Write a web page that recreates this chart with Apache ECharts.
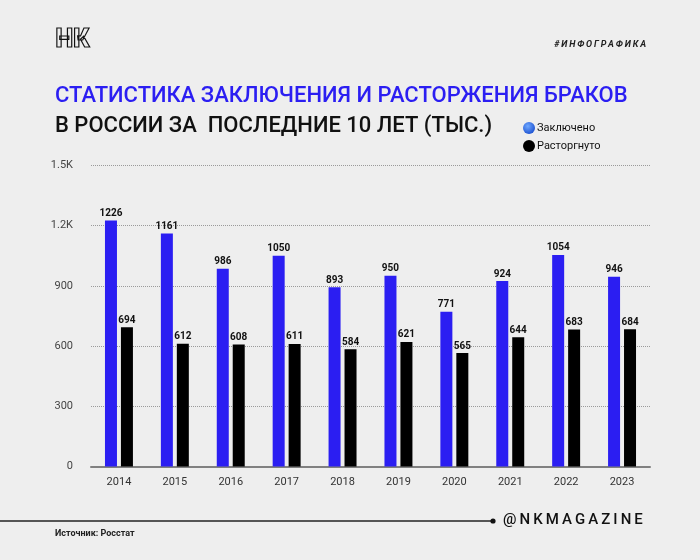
<!DOCTYPE html>
<html>
<head>
<meta charset="utf-8">
<script src="https://cdn.jsdelivr.net/npm/echarts@6/dist/echarts.min.js"></script>
<style>
html,body{margin:0;padding:0;background:#eeeeee;}
#chart{width:700px;height:560px;}
</style>
</head>
<body>
<div id="chart"></div>
<script>
const years = ['2014','2015','2016','2017','2018','2019','2020','2021','2022','2023'];
const married = [1226,1161,986,1050,893,950,771,924,1054,946];
const divorced = [694,612,608,611,584,621,565,644,683,684];
const yTickLabels = {0:'0',300:'300',600:'600',900:'900',1200:'1.2K',1500:'1.5K'};

const BLUE = '#2b1ef2';
const chart = echarts.init(document.getElementById('chart'), null, {renderer:'canvas'});
const sp = s => s.split('').join('\u2009');

chart.setOption({
  backgroundColor: '#eeeeee',
  animation: false,
  textStyle: {fontFamily: 'Roboto'},
  grid: {left: 91, right: 50, top: 165.5, bottom: 93.5, containLabel: false},
  legend: {
    orient: 'vertical', left: 518, top: 117, itemGap: 6,
    itemWidth: 12, itemHeight: 12, icon: 'circle',
    textStyle: {fontSize: 11, color: '#111', fontFamily: 'Roboto', padding: [0,0,0,-3]},
    data: [
      {name: 'Заключено', itemStyle: {color: {type:'radial', x:0.4, y:0.35, r:0.7, colorStops:[{offset:0,color:'#6fa8ff'},{offset:1,color:'#1a4fd0'}]}}},
      {name: 'Расторгнуто', itemStyle: {color: '#000'}}
    ]
  },
  xAxis: {
    type: 'category', data: years,
    axisLine: {lineStyle: {color: '#808080', width: 2}},
    axisTick: {show: false},
    axisLabel: {fontSize: 11, color: '#333', margin: 10}
  },
  yAxis: {
    type: 'value', min: 0, max: 1500, interval: 300,
    axisLine: {show: false}, axisTick: {show: false},
    axisLabel: {fontSize: 11, color: '#444', margin: 18, formatter: v => yTickLabels[v]},
    splitLine: {lineStyle: {type: [1,1], color: '#9a9a9a', width: 1}}
  },
  series: [
    {name: 'Заключено', type: 'bar', data: married, barWidth: 12, barGap: '33%',
     itemStyle: {color: BLUE},
     label: {show: true, position: 'top', distance: 2, fontSize: 10, fontWeight: 'bold', color: '#111'}},
    {name: 'Расторгнуто', type: 'bar', data: divorced, barWidth: 12,
     itemStyle: {color: '#000'},
     label: {show: true, position: 'top', distance: 2, fontSize: 10, fontWeight: 'bold', color: '#111'}}
  ],
  graphic: [
    {type: 'text', left: 55, top: 28, style: {text: 'НК', fontSize: 25, fontWeight: 900, fontFamily: 'Roboto', fill: 'transparent', stroke: '#111', lineWidth: 1.2}},
    {type: 'text', right: 54, top: 40, style: {text: sp('#ИНФОГРАФИКА'), fontSize: 9, fontWeight: 'bold', fontStyle: 'italic', fontFamily: 'Roboto', fill: '#222'}},
    {type: 'text', left: 55, top: 85, style: {text: 'СТАТИСТИКА ЗАКЛЮЧЕНИЯ И РАСТОРЖЕНИЯ БРАКОВ', fontSize: 22, fontWeight: 500, fontFamily: 'Roboto', fill: BLUE}},
    {type: 'text', left: 55, top: 115, style: {text: 'В РОССИИ ЗА  ПОСЛЕДНИЕ 10 ЛЕТ (ТЫС.)', fontSize: 22, fontWeight: 500, fontFamily: 'Roboto', fill: '#111'}},
    {type: 'line', shape: {x1: 0, y1: 521, x2: 493, y2: 521}, style: {stroke: '#222', lineWidth: 1.3}},
    {type: 'circle', shape: {cx: 493, cy: 521, r: 2.6}, style: {fill: '#111'}},
    {type: 'text', left: 503, top: 513, style: {text: sp('@NKMAGAZINE'), fontSize: 15, fontWeight: 500, fontFamily: 'Roboto', fill: '#111'}},
    {type: 'text', left: 55, top: 529, style: {text: 'Источник: Росстат', fontSize: 9, fontWeight: 'bold', fontFamily: 'Roboto', fill: '#222'}}
  ]
});
</script>
</body>
</html>
